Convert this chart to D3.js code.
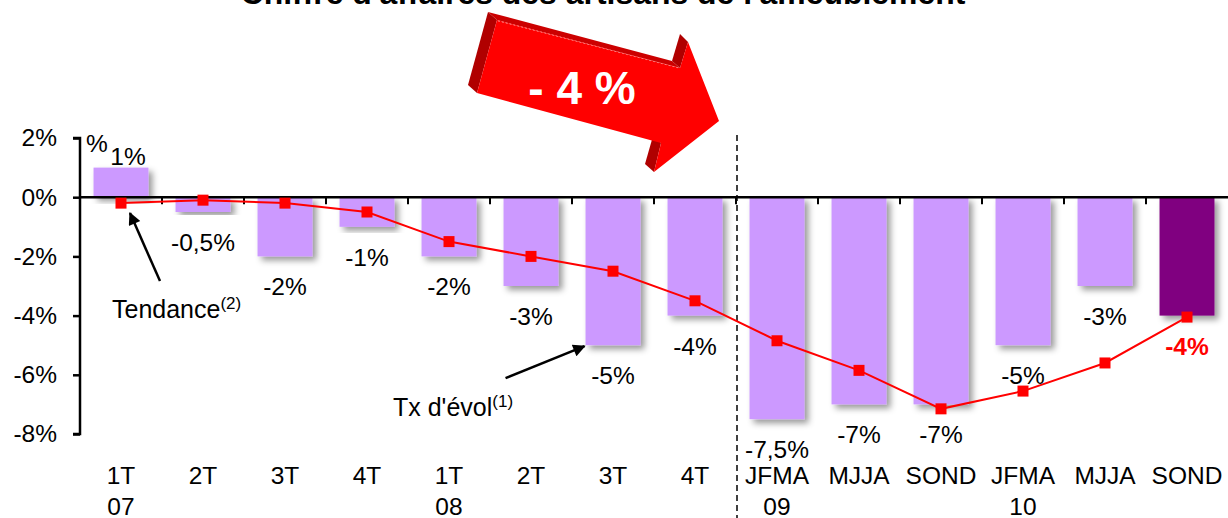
<!DOCTYPE html>
<html>
<head>
<meta charset="utf-8">
<script src="https://cdn.jsdelivr.net/npm/d3@7"></script>
<style>
  body { margin: 0; background: #fff; }
  svg { display: block; font-family: "Liberation Sans", Arial, sans-serif; }
</style>
</head>
<body>
<div id="vizcont"></div>
<script>
// data
var categories = ["1T", "2T", "3T", "4T", "1T", "2T", "3T", "4T", "JFMA", "MJJA", "SOND", "JFMA", "MJJA", "SOND"];
var years = ["07", "", "", "", "08", "", "", "", "09", "", "", "10", "", ""];
var evolution = [1, -0.5, -2, -1, -2, -3, -5, -4, -7.5, -7, -7, -5, -3, -4];
var evolutionLabels = ["1%", "-0,5%", "-2%", "-1%", "-2%", "-3%", "-5%", "-4%", "-7,5%", "-7%", "-7%", "-5%", "-3%", "-4%"];
var tendance = [-0.2, -0.1, -0.2, -0.5, -1.5, -2, -2.5, -3.5, -4.85, -5.85, -7.15, -6.55, -5.6, -4.05];
var yTicks = [2, 0, -2, -4, -6, -8];
var yTickLabels = ["2%", "0%", "-2%", "-4%", "-6%", "-8%"];

function draw_chart() {
  var W = 1228, H = 518;
  var svg = d3.select("#vizcont").append("svg")
    .attr("width", W).attr("height", H);

  var defs = svg.append("defs");
  var f = defs.append("filter").attr("id", "shadow")
    .attr("x", "-20%").attr("y", "-20%").attr("width", "140%").attr("height", "140%");
  f.append("feDropShadow").attr("dx", 4).attr("dy", 4).attr("stdDeviation", 3)
    .attr("flood-color", "#000").attr("flood-opacity", 0.4);
  defs.append("marker").attr("id", "head")
    .attr("viewBox", "0 0 10 10").attr("refX", 9).attr("refY", 5)
    .attr("markerWidth", 6).attr("markerHeight", 5).attr("orient", "auto")
    .attr("markerUnits", "strokeWidth")
    .append("path").attr("d", "M0,0L10,5L0,10Z").attr("fill", "#000");

  var x = d3.scaleBand()
    .domain(d3.range(categories.length))
    .range([80, 1228])
    .paddingInner(0.33)
    .paddingOuter(0.165);
  var y = d3.scaleLinear().domain([-8, 2]).range([434, 138]);
  var cx = function(i) { return x(i) + x.bandwidth() / 2; };

  // title (cut off by the top edge)
  var title = svg.append("text")
    .attr("x", 603).attr("y", 4)
    .attr("text-anchor", "middle")
    .style("font-weight", "bold").style("font-size", "27px")
    .text("Chiffre d'affaires des artisans de l'ameublement");
  var tw = title.node().getComputedTextLength();
  title.style("font-size", (27 * 725 / tw) + "px");

  // bars
  svg.append("g").selectAll("rect")
    .data(evolution)
    .enter().append("rect")
    .attr("x", function(d, i) { return x(i); })
    .attr("y", function(d) { return y(Math.max(d, 0)); })
    .attr("width", x.bandwidth())
    .attr("height", function(d) { return Math.abs(y(d) - y(0)); })
    .attr("fill", function(d, i) { return i === evolution.length - 1 ? "#800080" : "#cc99ff"; })
    .attr("filter", "url(#shadow)");

  // y axis
  var yAxis = svg.append("g")
    .attr("transform", "translate(80,0)")
    .call(d3.axisLeft(y).tickValues(yTicks)
      .tickFormat(function(d, i) { return yTickLabels[i]; })
      .tickSize(7).tickPadding(16));
  yAxis.select(".domain").attr("stroke", "#000").attr("stroke-width", 2.5)
    .attr("d", "M-7," + y(2) + "H0V" + y(-8) + "H-7");
  yAxis.selectAll(".tick line").attr("stroke", "#000").attr("stroke-width", 2.5);
  yAxis.selectAll(".tick text")
    .style("font-size", "24.5px").style("font-family", "'Liberation Sans', Arial, sans-serif")
    .attr("fill", "#000");

  // zero line with ticks between categories
  var zero = svg.append("g");
  zero.append("line")
    .attr("x1", 80).attr("x2", 1228)
    .attr("y1", y(0)).attr("y2", y(0))
    .attr("stroke", "#000").attr("stroke-width", 2.5);
  zero.selectAll("line.tk")
    .data(d3.range(1, categories.length))
    .enter().append("line").attr("class", "tk")
    .attr("x1", function(i) { return x(i) - x.step() * x.paddingInner() / 2; })
    .attr("x2", function(i) { return x(i) - x.step() * x.paddingInner() / 2; })
    .attr("y1", y(0)).attr("y2", y(0) + 7)
    .attr("stroke", "#000").attr("stroke-width", 2);

  // category labels
  var xl = svg.append("g").style("font-size", "24.5px");
  xl.selectAll("text.cat")
    .data(categories)
    .enter().append("text").attr("class", "cat")
    .attr("x", function(d, i) { return cx(i); })
    .attr("y", 484)
    .attr("text-anchor", "middle")
    .text(function(d) { return d; });
  xl.selectAll("text.yr")
    .data(years)
    .enter().append("text").attr("class", "yr")
    .attr("x", function(d, i) { return cx(i); })
    .attr("y", 515)
    .attr("text-anchor", "middle")
    .text(function(d) { return d; });

  // separator between quarters and four-month periods
  svg.append("line")
    .attr("x1", x(8) - x.step() * x.paddingInner() / 2 + 1)
    .attr("x2", x(8) - x.step() * x.paddingInner() / 2 + 1)
    .attr("y1", 135).attr("y2", H)
    .attr("stroke", "#000").attr("stroke-width", 1.5)
    .attr("stroke-dasharray", "6,4");

  // trend line
  var line = d3.line()
    .x(function(d, i) { return cx(i); })
    .y(function(d) { return y(d); });
  svg.append("path")
    .datum(tendance)
    .attr("d", line)
    .attr("fill", "none")
    .attr("stroke", "#ff0000")
    .attr("stroke-width", 2);
  svg.append("g").selectAll("rect")
    .data(tendance)
    .enter().append("rect")
    .attr("x", function(d, i) { return cx(i) - 5.5; })
    .attr("y", function(d) { return y(d) - 5.5; })
    .attr("width", 11).attr("height", 11)
    .attr("fill", "#ff0000");

  // value labels
  var last = evolution.length - 1;
  svg.append("g").selectAll("text")
    .data(evolution)
    .enter().append("text")
    .attr("x", function(d, i) { return d > 0 ? cx(i) + 7 : cx(i); })
    .attr("y", function(d) { return d > 0 ? y(d) - 3 : y(d) + 39; })
    .attr("text-anchor", "middle")
    .style("font-size", "24.5px")
    .style("font-weight", function(d, i) { return i === last ? "bold" : "normal"; })
    .attr("fill", function(d, i) { return i === last ? "#ff0000" : "#000"; })
    .text(function(d, i) { return evolutionLabels[i]; });
  // stray percent sign
  svg.append("text")
    .attr("x", cx(0) - 24).attr("y", y(1) - 16)
    .attr("text-anchor", "middle")
    .style("font-size", "24.5px")
    .text("%");

  // annotations
  var t0x = cx(0), t0y = y(tendance[0]);
  svg.append("line")
    .attr("x1", t0x + 39).attr("y1", t0y + 78)
    .attr("x2", t0x + 9).attr("y2", t0y + 10)
    .attr("stroke", "#000").attr("stroke-width", 2.5)
    .attr("marker-end", "url(#head)");
  var tt = svg.append("text").attr("x", 112).attr("y", 318).style("font-size", "25px");
  tt.append("tspan").text("Tendance");
  tt.append("tspan").attr("dy", -9).style("font-size", "17px").text("(2)");

  var b6x = x(6), b6y = y(evolution[6]);
  svg.append("line")
    .attr("x1", b6x - 80).attr("y1", b6y + 33)
    .attr("x2", b6x - 1).attr("y2", b6y + 1)
    .attr("stroke", "#000").attr("stroke-width", 2.5)
    .attr("marker-end", "url(#head)");
  var te = svg.append("text").attr("x", 393).attr("y", 416).style("font-size", "25px");
  te.append("tspan").text("Tx d'évol");
  te.append("tspan").attr("dy", -9).style("font-size", "17px").text("(1)");

  // big red 3D arrow
  var ar = svg.append("g");
  var dark = "#b00000";
  ar.append("polygon").attr("points", "488,12 497,20 477,93 468,85").attr("fill", dark);
  ar.append("polygon").attr("points", "488,12 672,61 680,68 497,20").attr("fill", "#cc0000");
  ar.append("polygon").attr("points", "672,61 680,34 688,42 680,68").attr("fill", dark);
  ar.append("polygon").attr("points", "645,164 653,136 661,143 654,172").attr("fill", dark);
  ar.append("polygon")
    .attr("points", "497,20 680,68 688,42 719,121 654,172 661,143 477,93")
    .attr("fill", "#ff0000");
  ar.append("line")
    .attr("x1", 498).attr("y1", 21).attr("x2", 679).attr("y2", 68)
    .attr("stroke", "#ff9090").attr("stroke-width", 0.8).attr("stroke-dasharray", "2,2");
  ar.append("text")
    .attr("x", 582).attr("y", 104)
    .attr("text-anchor", "middle")
    .attr("fill", "#fff")
    .style("font-weight", "bold").style("font-size", "46px")
    .text("- 4 %");
}
draw_chart();
</script>
</body>
</html>
